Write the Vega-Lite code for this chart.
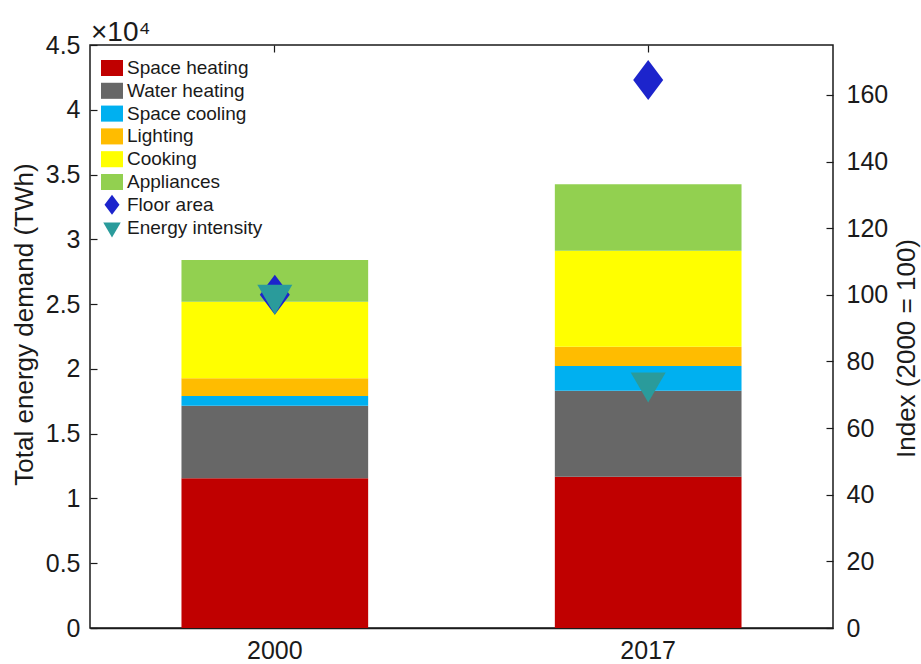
{
  "$schema": "https://vega.github.io/schema/vega-lite/v6.json",
  "width": 743,
  "height": 583,
  "autosize": {"type": "none"},
  "padding": {"left": 90, "top": 45, "right": 88, "bottom": 36},
  "background": "white",
  "view": {"stroke": "#1a1a1a", "strokeWidth": 1.5},
  "config": {
    "font": "Liberation Sans",
    "axis": {"domainColor": "#1a1a1a", "domainWidth": 1.5, "tickColor": "#1a1a1a", "tickWidth": 1.2, "labelColor": "#1a1a1a", "titleColor": "#1a1a1a", "labelFont": "Liberation Sans", "titleFont": "Liberation Sans", "titleFontWeight": "normal", "grid": false}
  },
  "title": {"text": "×10⁴", "anchor": "start", "frame": "group", "fontSize": 28, "fontWeight": "normal", "color": "#1a1a1a", "offset": 6, "dx": 1, "dy": 20},
  "datasets": {
    "energy": [
      {"year": "2000", "end_use": "Space heating", "k": 1, "twh": 11550},
      {"year": "2000", "end_use": "Water heating", "k": 2, "twh": 5600},
      {"year": "2000", "end_use": "Space cooling", "k": 3, "twh": 750},
      {"year": "2000", "end_use": "Lighting", "k": 4, "twh": 1370},
      {"year": "2000", "end_use": "Cooking", "k": 5, "twh": 5910},
      {"year": "2000", "end_use": "Appliances", "k": 6, "twh": 3220},
      {"year": "2017", "end_use": "Space heating", "k": 1, "twh": 11670},
      {"year": "2017", "end_use": "Water heating", "k": 2, "twh": 6640},
      {"year": "2017", "end_use": "Space cooling", "k": 3, "twh": 1910},
      {"year": "2017", "end_use": "Lighting", "k": 4, "twh": 1490},
      {"year": "2017", "end_use": "Cooking", "k": 5, "twh": 7400},
      {"year": "2017", "end_use": "Appliances", "k": 6, "twh": 5150}
    ],
    "index": [
      {"year": "2000", "end_use": "Floor area", "idx": 100},
      {"year": "2017", "end_use": "Floor area", "idx": 164.5},
      {"year": "2000", "end_use": "Energy intensity", "idx": 100},
      {"year": "2017", "end_use": "Energy intensity", "idx": 73.7}
    ]
  },
  "layer": [
    {
      "data": {"name": "energy"},
      "mark": {"type": "bar"},
      "encoding": {
        "x": {"field": "year", "type": "nominal", "scale": {"paddingInner": 0.5, "paddingOuter": 0.245},
          "axis": {"orient": "bottom", "title": null, "labelAngle": 0, "labelFontSize": 25, "ticks": false, "labelPadding": 10}},
        "y": {"field": "twh", "type": "quantitative", "stack": "zero", "scale": {"domain": [0, 45000], "nice": false},
          "axis": {"orient": "left", "offset": -7, "domain": false, "values": [0, 5000, 10000, 15000, 20000, 25000, 30000, 35000, 40000, 45000], "labelExpr": "'' + (datum.value / 10000)", "labelFontSize": 25, "tickSize": 7, "labelPadding": 10, "title": "Total energy demand (TWh)", "titleFontSize": 26, "titleAngle": 270, "titleBaseline": "middle", "titleAlign": "center", "titleX": -73, "titleY": 279}},
        "order": {"field": "k", "type": "quantitative"},
        "color": {"field": "end_use", "type": "nominal",
          "scale": {"domain": ["Space heating", "Water heating", "Space cooling", "Lighting", "Cooking", "Appliances", "Floor area", "Energy intensity"],
            "range": ["#C00000", "#676767", "#00B0F0", "#FFBC00", "#FFFF00", "#92D050", "#1C24CC", "#2A9B9B"]},
          "legend": {"orient": "none", "legendX": 11, "legendY": 12, "title": null, "padding": 0, "labelFontSize": 19, "labelColor": "#1a1a1a", "labelFont": "Liberation Sans", "symbolSize": 484, "symbolStrokeWidth": 0, "rowPadding": 1.8, "labelOffset": 4, "symbolOpacity": 1,
            "encode": {"symbols": {"update": {"size": {"signal": "datum.value === 'Floor area' || datum.value === 'Energy intensity' ? 400 : 484"}}}}}
        }
      }
    },
    {
      "data": {"name": "index"},
      "mark": {"type": "point", "filled": true, "opacity": 1, "size": 1600, "strokeWidth": 0},
      "encoding": {
        "x": {"field": "year", "type": "nominal",
          "axis": {"orient": "top", "offset": -7, "domain": false, "title": null, "labels": false, "tickSize": 7}},
        "y": {"field": "idx", "type": "quantitative", "scale": {"domain": [0, 175], "nice": false},
          "axis": {"orient": "right", "offset": -7, "domain": false, "values": [0, 20, 40, 60, 80, 100, 120, 140, 160], "labelFontSize": 25, "tickSize": 7, "labelPadding": 13, "title": "Index (2000 = 100)", "titleFontSize": 26, "titleAngle": 270, "titleBaseline": "middle", "titleAlign": "center", "titleX": 80, "titleY": 303}},
        "color": {"field": "end_use", "type": "nominal"},
        "shape": {"field": "end_use", "type": "nominal",
          "scale": {"domain": ["Space heating", "Water heating", "Space cooling", "Lighting", "Cooking", "Appliances", "Floor area", "Energy intensity"],
            "range": ["M-1,-0.73L1,-0.73L1,0.73L-1,0.73Z", "M-1,-0.73L1,-0.73L1,0.73L-1,0.73Z", "M-1,-0.73L1,-0.73L1,0.73L-1,0.73Z", "M-1,-0.73L1,-0.73L1,0.73L-1,0.73Z", "M-1,-0.73L1,-0.73L1,0.73L-1,0.73Z", "M-1,-0.73L1,-0.73L1,0.73L-1,0.73Z", "M0,-1L0.75,0L0,1L-0.75,0Z", "M-0.875,-0.5L0.875,-0.5L0,1Z"]}}
      }
    }
  ],
  "resolve": {"scale": {"y": "independent"}, "axis": {"x": "independent"}}
}
